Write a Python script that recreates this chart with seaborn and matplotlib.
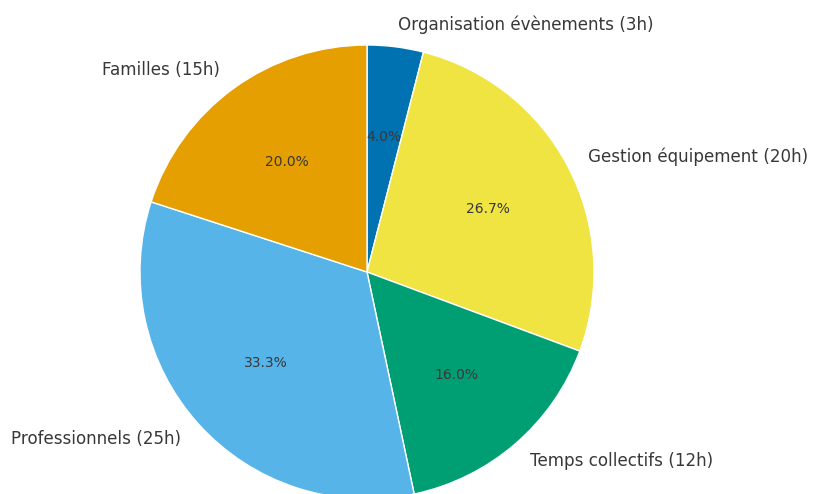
import matplotlib
matplotlib.use("Agg")
import matplotlib.pyplot as plt
import seaborn as sns

# Heures par activité
categories = [
    "Organisation évènements",
    "Gestion équipement",
    "Temps collectifs",
    "Professionnels",
    "Familles",
]
hours = [3, 20, 12, 25, 15]
labels = [f"{c} ({h}h)" for c, h in zip(categories, hours)]


def main():
    sns.set_theme(style="white")
    plt.rcParams["font.family"] = ["DejaVu Sans"]
    # Okabe-Ito colours: blue, yellow, green, sky blue, orange
    pie_colors = ["#0072B2", "#F0E442", "#009E73", "#56B4E9", "#E69F00"]

    fig = plt.figure(figsize=(8.13, 4.94), dpi=100)
    ax = fig.add_axes([140 / 813, -5 / 494, 454 / 813, 454 / 494])
    wedges, texts, autotexts = ax.pie(
        hours,
        labels=labels,
        colors=pie_colors,
        autopct="%1.1f%%",
        startangle=90,
        counterclock=False,
        wedgeprops={"edgecolor": "white", "linewidth": 1},
        textprops={"color": "#383838"},
    )
    for t in texts:
        t.set_fontsize(12.1)
    for t in autotexts:
        t.set_fontsize(10)
    ax.set_xlim(-1, 1)
    ax.set_ylim(-1, 1)
    ax.set_aspect("equal")
    ax.axis("off")

    fig.savefig("out.png", dpi=100)
    plt.close(fig)


if __name__ == "__main__":
    main()
